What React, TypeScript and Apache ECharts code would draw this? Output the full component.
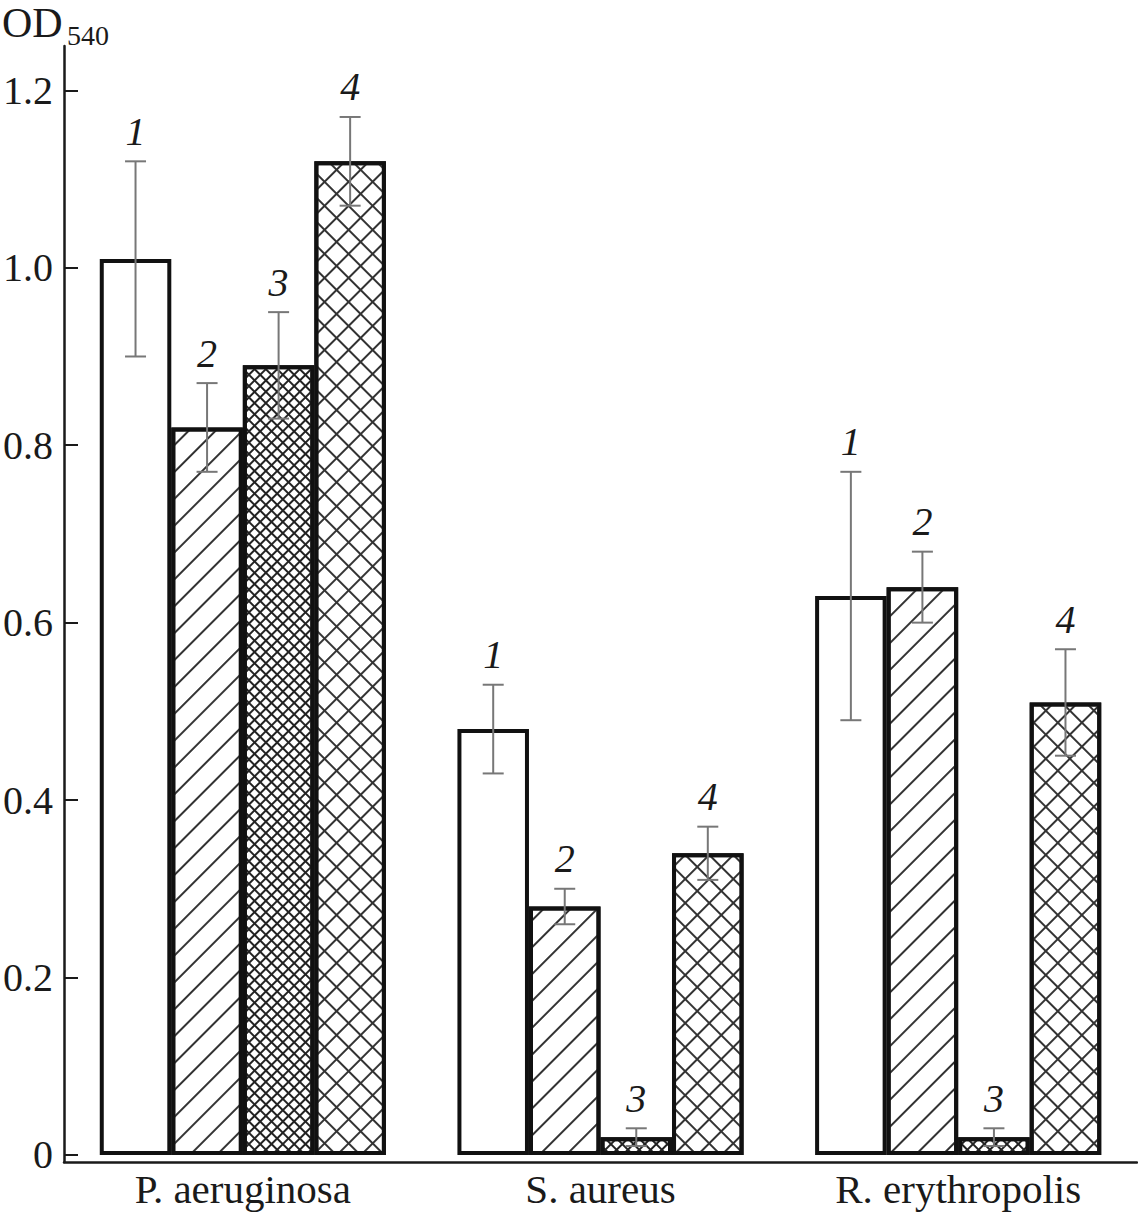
import React, { useEffect, useRef } from "react";
import * as echarts from "echarts";

const categories = ["P. aeruginosa", "S. aureus", "R. erythropolis"];
const seriesNames = ["1", "2", "3", "4"];
const values1 = [1.01, 0.48, 0.63];
const values2 = [0.82, 0.28, 0.64];
const values3 = [0.89, 0.02, 0.02];
const values4 = [1.12, 0.34, 0.51];
const errors1 = [0.11, 0.05, 0.14];
const errors2 = [0.05, 0.02, 0.04];
const errors3 = [0.06, 0.01, 0.01];
const errors4 = [0.05, 0.03, 0.06];
const yTicks = [0, 0.2, 0.4, 0.6, 0.8, 1.0, 1.2];

const allValues = [values1, values2, values3, values4];
const allErrors = [errors1, errors2, errors3, errors4];

const SERIF = '"Liberation Serif", "Times New Roman", serif';
const INK = "#1a1a1a";

function gridDecal(gap: number, lw: number, color: string) {
  return {
    symbol: "rect",
    symbolKeepAspect: false,
    color,
    dashArrayX: [
      [1, 0],
      [lw, gap],
    ],
    dashArrayY: [lw, 0, gap, 0],
    rotation: Math.PI / 4,
  };
}

const decals: any[] = [
  null,
  {
    symbol: "rect",
    symbolKeepAspect: false,
    color: "#333",
    dashArrayX: [1, 0],
    dashArrayY: [1.5, 16.5],
    rotation: -Math.PI / 4,
  },
  gridDecal(6, 1.5, "#222"),
  gridDecal(15, 1.5, "#333"),
];

const CAT_GAP = 0.2;

export default function App() {
  const ref = useRef<HTMLDivElement>(null);
  useEffect(() => {
    if (!ref.current) return;
    const chart = echarts.init(ref.current, null, { renderer: "svg" });

    const barSeries = seriesNames.map((name, i) => ({
      type: "bar",
      name,
      data: allValues[i],
      barGap: "0%",
      barCategoryGap: "20%",
      itemStyle: {
        color: "#fff",
        borderColor: "#111",
        borderWidth: 4,
        decal: decals[i] || undefined,
      },
      z: 2,
    }));

    const errSeries = seriesNames.map((name, i) => ({
      type: "custom",
      name: "err" + name,
      data: allValues[i].map((v, k) => [k, v, allErrors[i][k]]),
      encode: { x: 0, y: 1 },
      z: 5,
      renderItem: (params: any, api: any) => {
        const k = api.value(0);
        const v = api.value(1);
        const e = api.value(2);
        const c = api.coord([k, v]);
        const band = api.size([1, 0])[0];
        const bw = (band * (1 - CAT_GAP)) / 4;
        const x = c[0] + (i - 1.5) * bw;
        const yTop = api.coord([k, v + e])[1];
        const yBot = api.coord([k, v - e])[1];
        const cap = 10.5;
        const ls = { stroke: "#777", lineWidth: 2 };
        return {
          type: "group",
          children: [
            { type: "line", shape: { x1: x, y1: yTop, x2: x, y2: yBot }, style: ls },
            { type: "line", shape: { x1: x - cap, y1: yTop, x2: x + cap, y2: yTop }, style: ls },
            { type: "line", shape: { x1: x - cap, y1: yBot, x2: x + cap, y2: yBot }, style: ls },
            {
              type: "text",
              style: {
                text: name,
                x,
                y: yTop - 30,
                fill: INK,
                fontFamily: SERIF,
                fontStyle: "italic",
                fontSize: 40,
                align: "center",
                verticalAlign: "middle",
              },
            },
          ],
        };
      },
    }));

    chart.setOption({
      animation: false,
      backgroundColor: "#fff",
      grid: { left: 63, right: 1, top: 46, bottom: 53, containLabel: false },
      xAxis: {
        type: "category",
        data: categories,
        axisLine: { onZero: false, lineStyle: { color: INK, width: 2.5 } },
        axisTick: { inside: true, length: 13, alignWithLabel: false, lineStyle: { color: INK, width: 2 } },
        axisLabel: { fontFamily: SERIF, fontSize: 41, color: INK, margin: 6 },
        splitLine: { show: false },
      },
      yAxis: {
        type: "value",
        min: -0.008,
        max: 1.25,
        axisLine: { show: true, lineStyle: { color: INK, width: 2.5 } },
        axisTick: {
          show: true,
          inside: true,
          length: 14,
          customValues: yTicks,
          lineStyle: { color: INK, width: 2 },
        },
        axisLabel: {
          fontFamily: SERIF,
          fontSize: 40,
          color: INK,
          margin: 11,
          customValues: yTicks,
          formatter: (v: number) => (Math.abs(v) < 1e-9 ? "0" : v.toFixed(1)),
        },
        splitLine: { show: false },
      },
      graphic: [
        {
          type: "text",
          left: 2,
          top: 2,
          style: { text: "OD", fontFamily: SERIF, fontSize: 42, fill: INK },
        },
        {
          type: "text",
          left: 67,
          top: 21,
          style: { text: "540", fontFamily: SERIF, fontSize: 28, fill: INK },
        },
      ],
      series: [...barSeries, ...errSeries],
    });

    return () => chart.dispose();
  }, []);

  return (
    <div
      ref={ref}
      style={{ position: "fixed", left: 0, top: 0, width: 1138, height: 1215, background: "#fff" }}
    />
  );
}
